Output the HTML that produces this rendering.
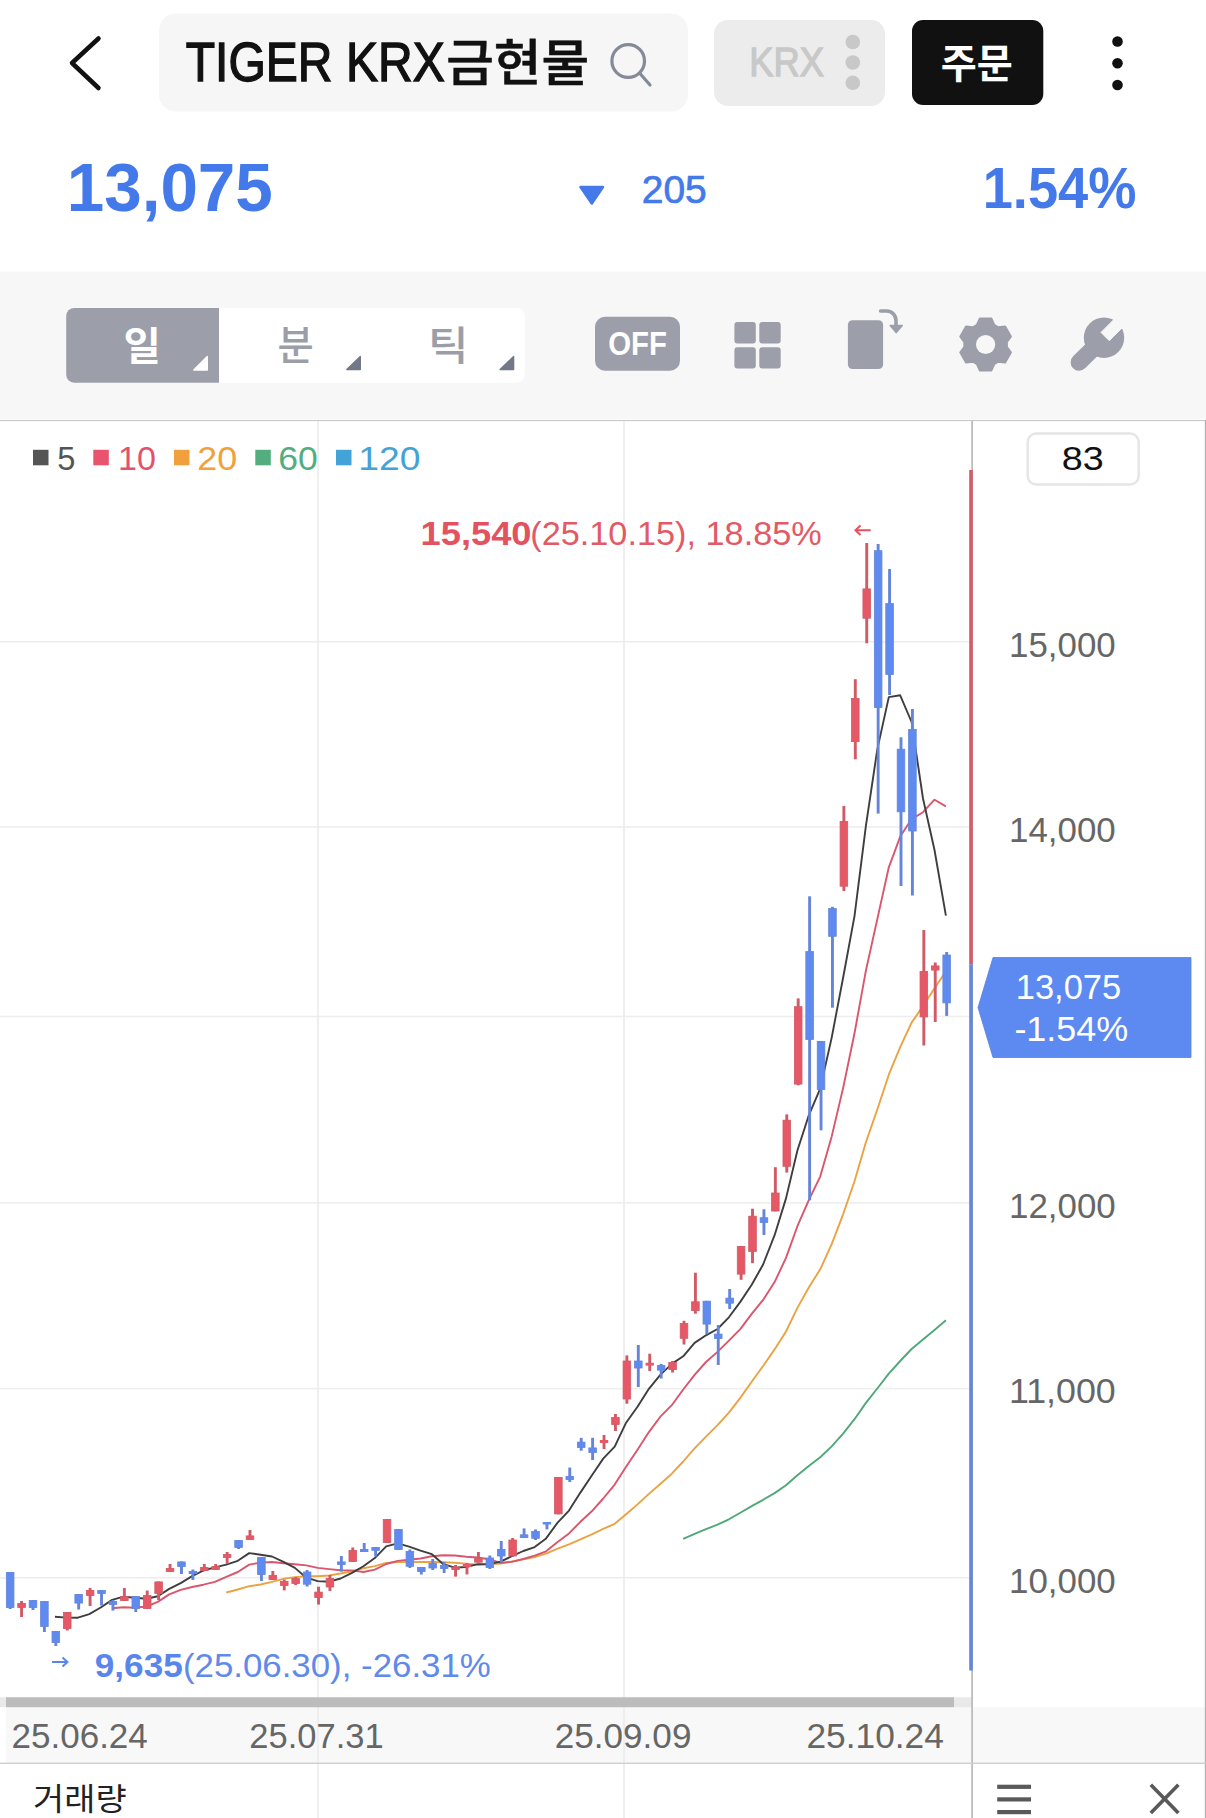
<!DOCTYPE html>
<html lang="ko"><head><meta charset="utf-8"><title>TIGER KRX금현물</title>
<style>
html,body{margin:0;padding:0;background:#fff;}
body{width:1206px;height:1818px;position:relative;overflow:hidden;font-family:"Liberation Sans","Noto Sans CJK KR",sans-serif;}
svg{position:absolute;left:0;top:0;display:block;}
svg text{font-family:"Liberation Sans","Noto Sans CJK KR",sans-serif;white-space:pre;}
</style></head><body>
<svg width="1206" height="1818" viewBox="0 0 1206 1818">
<g id="header">
<rect x="159" y="13.5" width="529" height="98" rx="17" fill="#f6f6f6"/>
<text transform="translate(185.70,80.90) scale(0.8729,1)" font-size="55.07" fill="#111" stroke="#111" stroke-width="1.4">TIGER KRX</text>
<text transform="translate(446.17,80.81) scale(1.0251,1)" font-size="50.55" font-weight="500" font-family="Liberation Sans, Noto Sans CJK KR, sans-serif" fill="#111" stroke="#111" stroke-width="0.6">금현물</text>
<polyline points="98.5,38.5 72,63 98.5,88" fill="none" stroke="#111" stroke-width="4.5" stroke-linecap="round" stroke-linejoin="round"/>
<circle cx="628.2" cy="61" r="16.3" fill="none" stroke="#858a98" stroke-width="3.2"/>
<line x1="640" y1="73.5" x2="650" y2="85" stroke="#858a98" stroke-width="3.2" stroke-linecap="round"/>
<rect x="714" y="20" width="171" height="86" rx="14" fill="#ececec"/>
<text transform="translate(749.29,76.30) scale(0.8836,1)" font-size="41.16" fill="#c8c8c8" stroke="#c8c8c8" stroke-width="1.3">KRX</text>
<circle cx="852.8" cy="42" r="7.3" fill="#c8c8c8"/><circle cx="852.8" cy="62.5" r="7.3" fill="#c8c8c8"/><circle cx="852.8" cy="82.8" r="7.3" fill="#c8c8c8"/>
<rect x="912" y="20" width="131.3" height="85" rx="11" fill="#111"/>
<text transform="translate(940.83,77.98) scale(0.9732,1)" font-size="40.22" font-weight="700" font-family="Liberation Sans, Noto Sans CJK KR, sans-serif" fill="#fff">주문</text>
<circle cx="1117.5" cy="41.5" r="5.3" fill="#111"/><circle cx="1117.5" cy="63.3" r="5.3" fill="#111"/><circle cx="1117.5" cy="85" r="5.3" fill="#111"/>
<text transform="translate(66.72,210.90) scale(0.9726,1)" font-size="69.29" font-weight="700" fill="#4479ea">13,075</text>
<polygon points="580.5,187 603,187 591.8,203.5" fill="#4479ea" stroke="#4479ea" stroke-width="2.5" stroke-linejoin="round"/>
<text transform="translate(641.75,202.70) scale(1.0107,1)" font-size="38.57" fill="#4479ea" stroke="#4479ea" stroke-width="0.7">205</text>
<text transform="translate(982.68,208.30) scale(0.9466,1)" font-size="57.27" font-weight="700" fill="#4479ea">1.54%</text>
</g>
<g id="toolbar">
<rect x="0" y="271.6" width="1206" height="147.2" fill="#f7f7f7"/>
<rect x="0" y="419.9" width="1206" height="1.2" fill="#c9c9c9"/>
<rect x="66.2" y="308" width="458.5" height="74.7" rx="8" fill="#fff"/>
<path d="M219 308 H74.2 a8 8 0 0 0 -8 8 V374.7 a8 8 0 0 0 8 8 H219 Z" fill="#9c9ea9"/>
<text transform="translate(123.46,359.88) scale(1.0415,1)" font-size="39.02" font-weight="700" font-family="Liberation Sans, Noto Sans CJK KR, sans-serif" fill="#fff">일</text>
<text transform="translate(277.53,359.90) scale(0.9495,1)" font-size="41.49" font-weight="500" font-family="Liberation Sans, Noto Sans CJK KR, sans-serif" fill="#9b9ea9">분</text>
<text transform="translate(428.11,360.41) scale(1.1059,1)" font-size="39.89" font-weight="500" font-family="Liberation Sans, Noto Sans CJK KR, sans-serif" fill="#9b9ea9">틱</text>
<polygon points="207.3,356.5 207.3,370 193.8,370" fill="#fff" stroke="#fff" stroke-width="1.4" stroke-linejoin="round"/>
<polygon points="360.3,356.5 360.3,369.5 346.8,369.5" fill="#737888" stroke="#737888" stroke-width="1.4" stroke-linejoin="round"/>
<polygon points="513.6,356.5 513.6,369.5 500.1,369.5" fill="#737888" stroke="#737888" stroke-width="1.4" stroke-linejoin="round"/>
<rect x="595" y="316.8" width="85" height="54" rx="10" fill="#9c9ea9"/>
<text transform="translate(608.22,354.70) scale(0.9027,1)" font-size="32.57" font-weight="700" fill="#fff">OFF</text>
<g fill="#9c9ea9"><rect x="734.4" y="322" width="21.4" height="21.4" rx="3"/><rect x="734.4" y="347.2" width="21.4" height="21.4" rx="3"/><rect x="759.3" y="322" width="21.4" height="21.4" rx="3"/><rect x="759.3" y="347.2" width="21.4" height="21.4" rx="3"/><rect x="847.9" y="320.2" width="35.2" height="48.8" rx="4.6"/></g>
<path d="M880.6 311 H886.5 A9.5 9.5 0 0 1 896 320.5 V326" fill="none" stroke="#9c9ea9" stroke-width="3.6" stroke-linecap="round"/>
<polygon points="890.2,325.6 902.2,325.6 896.2,332.6" fill="#9c9ea9" stroke="#9c9ea9" stroke-width="1.6" stroke-linejoin="round"/>
<path d="M994.1 325.1 L991.3 318.8 L979.9 318.8 L977.1 325.1 L973.0 327.5 L966.2 326.7 L960.5 336.6 L964.5 342.1 L964.5 346.9 L960.5 352.4 L966.2 362.3 L973.0 361.5 L977.1 363.9 L979.9 370.2 L991.3 370.2 L994.1 363.9 L998.2 361.5 L1005.0 362.3 L1010.7 352.4 L1006.7 346.9 L1006.7 342.1 L1010.7 336.6 L1005.0 326.7 L998.2 327.5 Z" fill="#9c9ea9" stroke="#9c9ea9" stroke-width="2.4" stroke-linejoin="round"/>
<circle cx="985.6" cy="344.5" r="9.6" fill="#f7f7f7"/>
<g id="wrench"><line x1="1079.1" y1="362.2" x2="1104.0" y2="337.7" stroke="#9c9ea9" stroke-width="17" stroke-linecap="round"/><circle cx="1104.0" cy="337.7" r="20.2" fill="#9c9ea9"/><polygon points="1101.0,332.4 1109.3,340.7 1126.5,323.5 1118.2,315.2" fill="#f7f7f7" stroke="#f7f7f7" stroke-width="1" stroke-linejoin="round"/></g>
</g>
<g id="chart">
<rect x="6" y="1707" width="1200" height="56" fill="#f8f8f8"/>
<rect x="0" y="641.0" width="969" height="1.6" fill="#eeeeee"/>
<rect x="0" y="826.2" width="969" height="1.6" fill="#eeeeee"/>
<rect x="0" y="1015.7" width="969" height="1.6" fill="#eeeeee"/>
<rect x="0" y="1202.1" width="969" height="1.6" fill="#eeeeee"/>
<rect x="0" y="1387.8" width="969" height="1.6" fill="#eeeeee"/>
<rect x="0" y="1577.0" width="969" height="1.6" fill="#eeeeee"/>
<rect x="317.2" y="421" width="1.6" height="1397" fill="#ececec"/>
<rect x="623.2" y="421" width="1.6" height="1397" fill="#ececec"/>
<rect x="0" y="1697.3" width="972" height="9.9" fill="#e9e9e9"/>
<rect x="6" y="1697.3" width="948" height="9.9" fill="#bcbcbc"/>
<rect x="971.3" y="421" width="1.6" height="1397" fill="#b5b5b5"/>
<rect x="1204.8" y="420" width="1.2" height="1398" fill="#b2b2b2"/>
<rect x="0" y="1762.6" width="1206" height="1.4" fill="#cfcfcf"/>
<polyline points="683.2,1538.9 694.6,1533.8 706.0,1529.2 717.5,1524.7 728.9,1519.3 740.3,1512.7 751.7,1506.1 763.1,1499.8 774.6,1493.1 786.0,1485.2 797.4,1475.3 808.8,1466.0 820.2,1457.3 831.7,1446.4 843.1,1433.7 854.5,1419.2 865.9,1402.9 877.3,1388.5 888.8,1373.6 900.2,1361.0 911.6,1349.0 923.0,1339.4 934.5,1329.9 945.9,1320.3" fill="none" stroke="#4fa878" stroke-width="1.9" stroke-linejoin="round"/>
<polyline points="226.3,1592.5 237.8,1589.5 249.2,1586.2 260.6,1584.5 272.0,1581.9 283.5,1578.8 294.9,1577.1 306.3,1576.2 317.7,1576.3 329.1,1575.5 340.6,1573.5 352.0,1571.2 363.4,1568.3 374.8,1566.1 386.2,1563.0 397.7,1562.1 409.1,1562.1 420.5,1562.0 431.9,1562.0 443.3,1562.2 454.8,1562.8 466.2,1563.6 477.6,1564.7 489.0,1564.4 500.5,1563.5 511.9,1561.4 523.3,1559.4 534.7,1557.1 546.1,1553.7 557.6,1548.7 569.0,1544.4 580.4,1539.3 591.8,1534.4 603.2,1528.8 614.7,1523.8 626.1,1514.3 637.5,1504.4 648.9,1493.9 660.3,1484.0 671.8,1473.7 683.2,1461.5 694.6,1448.3 706.0,1436.7 717.5,1425.2 728.9,1412.6 740.3,1397.9 751.7,1381.8 763.1,1366.0 774.6,1349.4 786.0,1331.5 797.4,1307.9 808.8,1287.5 820.2,1269.3 831.7,1244.2 843.1,1214.3 854.5,1181.2 865.9,1142.2 877.3,1109.5 888.8,1074.7 900.2,1047.2 911.6,1022.6 923.0,1006.1 934.5,988.2 945.9,971.4" fill="none" stroke="#eaa343" stroke-width="1.9" stroke-linejoin="round"/>
<polyline points="112.1,1608.3 123.6,1607.2 135.0,1607.8 146.4,1606.5 157.8,1601.9 169.2,1594.4 180.7,1589.9 192.1,1587.0 203.5,1584.7 214.9,1581.8 226.3,1576.8 237.8,1572.0 249.2,1564.6 260.6,1562.6 272.0,1562.0 283.5,1563.2 294.9,1564.3 306.3,1565.4 317.7,1567.9 329.1,1569.1 340.6,1570.2 352.0,1570.4 363.4,1572.0 374.8,1569.6 386.2,1564.0 397.7,1560.9 409.1,1559.8 420.5,1558.5 431.9,1556.2 443.3,1555.3 454.8,1555.5 466.2,1556.8 477.6,1557.5 489.0,1559.2 500.5,1562.9 511.9,1561.9 523.3,1559.0 534.7,1555.7 546.1,1551.3 557.6,1542.1 569.0,1533.4 580.4,1521.8 591.8,1511.3 603.2,1498.5 614.7,1484.6 626.1,1466.7 637.5,1449.7 648.9,1432.1 660.3,1416.7 671.8,1405.2 683.2,1389.5 694.6,1374.9 706.0,1362.0 717.5,1351.9 728.9,1340.6 740.3,1329.1 751.7,1313.9 763.1,1299.9 774.6,1282.1 786.0,1257.9 797.4,1226.2 808.8,1200.1 820.2,1176.6 831.7,1136.4 843.1,1088.1 854.5,1033.3 865.9,970.6 877.3,919.1 888.8,867.3 900.2,836.6 911.6,819.1 923.0,812.2 934.5,799.7 945.9,806.4" fill="none" stroke="#d9566c" stroke-width="1.9" stroke-linejoin="round"/>
<polyline points="55.0,1616.8 66.5,1617.6 77.9,1617.7 89.3,1614.1 100.7,1607.5 112.1,1599.9 123.6,1596.7 135.0,1597.8 146.4,1598.8 157.8,1596.3 169.2,1588.9 180.7,1583.1 192.1,1576.1 203.5,1570.5 214.9,1567.4 226.3,1564.6 237.8,1560.8 249.2,1553.1 260.6,1554.7 272.0,1556.5 283.5,1561.9 294.9,1567.9 306.3,1577.7 317.7,1581.1 329.1,1581.7 340.6,1578.5 352.0,1572.9 363.4,1566.3 374.8,1558.1 386.2,1546.3 397.7,1543.3 409.1,1546.7 420.5,1550.7 431.9,1554.2 443.3,1564.2 454.8,1567.6 466.2,1567.0 477.6,1564.2 489.0,1564.1 500.5,1561.6 511.9,1556.2 523.3,1551.0 534.7,1547.1 546.1,1538.4 557.6,1522.6 569.0,1510.6 580.4,1492.6 591.8,1475.5 603.2,1458.6 614.7,1446.6 626.1,1422.7 637.5,1406.8 648.9,1388.8 660.3,1374.9 671.8,1363.9 683.2,1356.3 694.6,1342.9 706.0,1335.3 717.5,1329.0 728.9,1317.3 740.3,1301.9 751.7,1284.8 763.1,1264.5 774.6,1235.2 786.0,1198.4 797.4,1150.5 808.8,1115.3 820.2,1088.7 831.7,1037.6 843.1,977.8 854.5,916.1 865.9,825.8 877.3,749.4 888.8,697.1 900.2,695.3 911.6,722.0 923.0,798.5 934.5,850.0 945.9,915.7" fill="none" stroke="#3e3e3e" stroke-width="1.9" stroke-linejoin="round"/>
<rect x="8.70" y="1572.0" width="2.9" height="37.0" fill="#6485da"/><rect x="6.35" y="1572.4" width="7.6" height="35.2" fill="#5f8bf0" stroke="#6485da" stroke-width="0.8"/>
<rect x="20.12" y="1601.0" width="2.9" height="16.0" fill="#d05a66"/><rect x="17.77" y="1603.4" width="7.6" height="4.2" fill="#e65866" stroke="#d05a66" stroke-width="0.8"/>
<rect x="31.54" y="1600.0" width="2.9" height="10.0" fill="#6485da"/><rect x="29.19" y="1600.4" width="7.6" height="7.2" fill="#5f8bf0" stroke="#6485da" stroke-width="0.8"/>
<rect x="42.96" y="1601.0" width="2.9" height="31.0" fill="#6485da"/><rect x="40.61" y="1601.4" width="7.6" height="25.2" fill="#5f8bf0" stroke="#6485da" stroke-width="0.8"/>
<rect x="54.38" y="1631.0" width="2.9" height="15.0" fill="#6485da"/><rect x="52.03" y="1631.4" width="7.6" height="11.2" fill="#5f8bf0" stroke="#6485da" stroke-width="0.8"/>
<rect x="65.80" y="1612.0" width="2.9" height="18.5" fill="#d05a66"/><rect x="63.45" y="1612.4" width="7.6" height="16.2" fill="#e65866" stroke="#d05a66" stroke-width="0.8"/>
<rect x="77.23" y="1594.0" width="2.9" height="15.5" fill="#6485da"/><rect x="74.88" y="1594.4" width="7.6" height="8.7" fill="#5f8bf0" stroke="#6485da" stroke-width="0.8"/>
<rect x="88.65" y="1588.0" width="2.9" height="18.0" fill="#d05a66"/><rect x="86.30" y="1590.4" width="7.6" height="5.2" fill="#e65866" stroke="#d05a66" stroke-width="0.8"/>
<rect x="100.07" y="1590.0" width="2.9" height="15.6" fill="#6485da"/><rect x="97.72" y="1590.4" width="7.6" height="3.2" fill="#5f8bf0" stroke="#6485da" stroke-width="0.8"/>
<rect x="111.49" y="1600.0" width="2.9" height="10.6" fill="#6485da"/><rect x="109.14" y="1601.4" width="7.6" height="3.2" fill="#5f8bf0" stroke="#6485da" stroke-width="0.8"/>
<rect x="122.91" y="1588.0" width="2.9" height="13.0" fill="#d05a66"/><rect x="120.56" y="1596.4" width="7.6" height="4.2" fill="#e65866" stroke="#d05a66" stroke-width="0.8"/>
<rect x="134.33" y="1596.0" width="2.9" height="16.0" fill="#6485da"/><rect x="131.98" y="1596.4" width="7.6" height="12.2" fill="#5f8bf0" stroke="#6485da" stroke-width="0.8"/>
<rect x="145.75" y="1590.5" width="2.9" height="18.5" fill="#d05a66"/><rect x="143.40" y="1595.4" width="7.6" height="13.2" fill="#e65866" stroke="#d05a66" stroke-width="0.8"/>
<rect x="157.17" y="1581.5" width="2.9" height="18.5" fill="#d05a66"/><rect x="154.82" y="1581.9" width="7.6" height="11.7" fill="#e65866" stroke="#d05a66" stroke-width="0.8"/>
<rect x="168.59" y="1564.0" width="2.9" height="8.0" fill="#d05a66"/><rect x="166.24" y="1568.4" width="7.6" height="3.2" fill="#e65866" stroke="#d05a66" stroke-width="0.8"/>
<rect x="180.02" y="1561.5" width="2.9" height="12.5" fill="#6485da"/><rect x="177.67" y="1561.9" width="7.6" height="4.7" fill="#5f8bf0" stroke="#6485da" stroke-width="0.8"/>
<rect x="191.44" y="1569.5" width="2.9" height="10.5" fill="#6485da"/><rect x="188.69" y="1571.0" width="8.4" height="3.0" fill="#5f8bf0"/>
<rect x="202.86" y="1564.0" width="2.9" height="7.0" fill="#d05a66"/><rect x="200.51" y="1567.4" width="7.6" height="3.2" fill="#e65866" stroke="#d05a66" stroke-width="0.8"/>
<rect x="214.28" y="1564.0" width="2.9" height="6.0" fill="#d05a66"/><rect x="211.93" y="1566.4" width="7.6" height="3.2" fill="#e65866" stroke="#d05a66" stroke-width="0.8"/>
<rect x="225.70" y="1552.0" width="2.9" height="12.0" fill="#d05a66"/><rect x="223.35" y="1554.4" width="7.6" height="3.2" fill="#e65866" stroke="#d05a66" stroke-width="0.8"/>
<rect x="237.12" y="1540.0" width="2.9" height="9.0" fill="#6485da"/><rect x="234.77" y="1540.4" width="7.6" height="7.2" fill="#5f8bf0" stroke="#6485da" stroke-width="0.8"/>
<rect x="248.54" y="1530.0" width="2.9" height="10.0" fill="#d05a66"/><rect x="246.19" y="1535.9" width="7.6" height="3.7" fill="#e65866" stroke="#d05a66" stroke-width="0.8"/>
<rect x="259.96" y="1557.0" width="2.9" height="24.0" fill="#6485da"/><rect x="257.61" y="1557.4" width="7.6" height="17.2" fill="#5f8bf0" stroke="#6485da" stroke-width="0.8"/>
<rect x="271.38" y="1571.0" width="2.9" height="9.0" fill="#d05a66"/><rect x="269.03" y="1575.4" width="7.6" height="4.2" fill="#e65866" stroke="#d05a66" stroke-width="0.8"/>
<rect x="282.80" y="1579.6" width="2.9" height="10.8" fill="#d05a66"/><rect x="280.45" y="1581.4" width="7.6" height="4.2" fill="#e65866" stroke="#d05a66" stroke-width="0.8"/>
<rect x="294.22" y="1577.0" width="2.9" height="8.0" fill="#d05a66"/><rect x="291.87" y="1578.4" width="7.6" height="5.2" fill="#e65866" stroke="#d05a66" stroke-width="0.8"/>
<rect x="305.65" y="1570.0" width="2.9" height="16.5" fill="#6485da"/><rect x="303.30" y="1572.0" width="7.6" height="12.2" fill="#5f8bf0" stroke="#6485da" stroke-width="0.8"/>
<rect x="317.07" y="1586.7" width="2.9" height="17.9" fill="#d05a66"/><rect x="314.72" y="1592.1" width="7.6" height="5.5" fill="#e65866" stroke="#d05a66" stroke-width="0.8"/>
<rect x="328.49" y="1575.0" width="2.9" height="16.0" fill="#d05a66"/><rect x="326.14" y="1578.4" width="7.6" height="8.6" fill="#e65866" stroke="#d05a66" stroke-width="0.8"/>
<rect x="339.91" y="1556.0" width="2.9" height="15.6" fill="#6485da"/><rect x="337.56" y="1561.9" width="7.6" height="2.7" fill="#5f8bf0" stroke="#6485da" stroke-width="0.8"/>
<rect x="351.33" y="1547.5" width="2.9" height="14.5" fill="#d05a66"/><rect x="348.98" y="1550.4" width="7.6" height="11.2" fill="#e65866" stroke="#d05a66" stroke-width="0.8"/>
<rect x="362.75" y="1543.0" width="2.9" height="9.0" fill="#6485da"/><rect x="360.00" y="1549.0" width="8.4" height="3.0" fill="#5f8bf0"/>
<rect x="374.17" y="1547.0" width="2.9" height="9.5" fill="#6485da"/><rect x="371.82" y="1547.4" width="7.6" height="2.9" fill="#5f8bf0" stroke="#6485da" stroke-width="0.8"/>
<rect x="385.59" y="1519.0" width="2.9" height="24.0" fill="#d05a66"/><rect x="383.24" y="1519.4" width="7.6" height="23.2" fill="#e65866" stroke="#d05a66" stroke-width="0.8"/>
<rect x="397.01" y="1529.0" width="2.9" height="21.0" fill="#6485da"/><rect x="394.66" y="1529.4" width="7.6" height="20.2" fill="#5f8bf0" stroke="#6485da" stroke-width="0.8"/>
<rect x="408.43" y="1549.5" width="2.9" height="18.5" fill="#6485da"/><rect x="406.08" y="1551.4" width="7.6" height="14.9" fill="#5f8bf0" stroke="#6485da" stroke-width="0.8"/>
<rect x="419.86" y="1567.0" width="2.9" height="7.5" fill="#6485da"/><rect x="417.51" y="1567.4" width="7.6" height="4.2" fill="#5f8bf0" stroke="#6485da" stroke-width="0.8"/>
<rect x="431.28" y="1559.0" width="2.9" height="11.0" fill="#6485da"/><rect x="428.93" y="1563.4" width="7.6" height="4.6" fill="#5f8bf0" stroke="#6485da" stroke-width="0.8"/>
<rect x="442.70" y="1562.0" width="2.9" height="11.0" fill="#6485da"/><rect x="440.35" y="1565.4" width="7.6" height="3.2" fill="#5f8bf0" stroke="#6485da" stroke-width="0.8"/>
<rect x="454.12" y="1565.0" width="2.9" height="11.6" fill="#d05a66"/><rect x="451.77" y="1567.1" width="7.6" height="2.5" fill="#e65866" stroke="#d05a66" stroke-width="0.8"/>
<rect x="465.54" y="1563.0" width="2.9" height="11.4" fill="#d05a66"/><rect x="462.79" y="1564.0" width="8.4" height="3.0" fill="#e65866"/>
<rect x="476.96" y="1552.0" width="2.9" height="10.6" fill="#d05a66"/><rect x="474.61" y="1558.4" width="7.6" height="3.8" fill="#e65866" stroke="#d05a66" stroke-width="0.8"/>
<rect x="488.38" y="1555.5" width="2.9" height="13.5" fill="#6485da"/><rect x="486.03" y="1558.0" width="7.6" height="9.6" fill="#5f8bf0" stroke="#6485da" stroke-width="0.8"/>
<rect x="499.80" y="1541.0" width="2.9" height="21.4" fill="#6485da"/><rect x="497.45" y="1549.4" width="7.6" height="6.6" fill="#5f8bf0" stroke="#6485da" stroke-width="0.8"/>
<rect x="511.22" y="1538.0" width="2.9" height="18.4" fill="#d05a66"/><rect x="508.87" y="1540.0" width="7.6" height="16.0" fill="#e65866" stroke="#d05a66" stroke-width="0.8"/>
<rect x="522.64" y="1528.4" width="2.9" height="9.6" fill="#6485da"/><rect x="520.29" y="1534.8" width="7.6" height="2.8" fill="#5f8bf0" stroke="#6485da" stroke-width="0.8"/>
<rect x="534.07" y="1529.4" width="2.9" height="10.6" fill="#6485da"/><rect x="531.72" y="1531.4" width="7.6" height="6.9" fill="#5f8bf0" stroke="#6485da" stroke-width="0.8"/>
<rect x="545.49" y="1522.0" width="2.9" height="7.4" fill="#6485da"/><rect x="542.74" y="1522.0" width="8.4" height="2.5" fill="#5f8bf0"/>
<rect x="556.91" y="1477.0" width="2.9" height="37.3" fill="#d05a66"/><rect x="554.56" y="1477.4" width="7.6" height="36.5" fill="#e65866" stroke="#d05a66" stroke-width="0.8"/>
<rect x="568.33" y="1467.6" width="2.9" height="14.4" fill="#6485da"/><rect x="565.98" y="1476.4" width="7.6" height="3.2" fill="#5f8bf0" stroke="#6485da" stroke-width="0.8"/>
<rect x="579.75" y="1437.8" width="2.9" height="12.9" fill="#6485da"/><rect x="577.40" y="1442.1" width="7.6" height="5.5" fill="#5f8bf0" stroke="#6485da" stroke-width="0.8"/>
<rect x="591.17" y="1437.8" width="2.9" height="22.2" fill="#6485da"/><rect x="588.82" y="1447.9" width="7.6" height="4.7" fill="#5f8bf0" stroke="#6485da" stroke-width="0.8"/>
<rect x="602.59" y="1435.0" width="2.9" height="14.0" fill="#d05a66"/><rect x="599.84" y="1440.0" width="8.4" height="3.0" fill="#e65866"/>
<rect x="614.01" y="1414.0" width="2.9" height="17.0" fill="#d05a66"/><rect x="611.66" y="1417.4" width="7.6" height="7.2" fill="#e65866" stroke="#d05a66" stroke-width="0.8"/>
<rect x="625.43" y="1355.4" width="2.9" height="48.3" fill="#d05a66"/><rect x="623.08" y="1361.0" width="7.6" height="38.0" fill="#e65866" stroke="#d05a66" stroke-width="0.8"/>
<rect x="636.85" y="1345.0" width="2.9" height="42.0" fill="#6485da"/><rect x="634.50" y="1361.0" width="7.6" height="7.0" fill="#5f8bf0" stroke="#6485da" stroke-width="0.8"/>
<rect x="648.28" y="1353.7" width="2.9" height="17.3" fill="#d05a66"/><rect x="645.53" y="1362.8" width="8.4" height="2.8" fill="#e65866"/>
<rect x="659.70" y="1364.0" width="2.9" height="14.5" fill="#6485da"/><rect x="657.35" y="1365.4" width="7.6" height="4.7" fill="#5f8bf0" stroke="#6485da" stroke-width="0.8"/>
<rect x="671.12" y="1361.0" width="2.9" height="11.5" fill="#d05a66"/><rect x="668.77" y="1362.4" width="7.6" height="7.2" fill="#e65866" stroke="#d05a66" stroke-width="0.8"/>
<rect x="682.54" y="1320.8" width="2.9" height="23.7" fill="#d05a66"/><rect x="680.19" y="1323.4" width="7.6" height="14.9" fill="#e65866" stroke="#d05a66" stroke-width="0.8"/>
<rect x="693.96" y="1272.7" width="2.9" height="41.0" fill="#d05a66"/><rect x="691.61" y="1301.8" width="7.6" height="8.8" fill="#e65866" stroke="#d05a66" stroke-width="0.8"/>
<rect x="705.38" y="1300.8" width="2.9" height="33.6" fill="#6485da"/><rect x="703.03" y="1301.2" width="7.6" height="22.9" fill="#5f8bf0" stroke="#6485da" stroke-width="0.8"/>
<rect x="716.80" y="1325.0" width="2.9" height="40.0" fill="#6485da"/><rect x="714.45" y="1334.1" width="7.6" height="4.5" fill="#5f8bf0" stroke="#6485da" stroke-width="0.8"/>
<rect x="728.22" y="1289.0" width="2.9" height="20.0" fill="#6485da"/><rect x="725.87" y="1298.1" width="7.6" height="5.1" fill="#5f8bf0" stroke="#6485da" stroke-width="0.8"/>
<rect x="739.64" y="1246.0" width="2.9" height="33.8" fill="#d05a66"/><rect x="737.29" y="1246.4" width="7.6" height="27.7" fill="#e65866" stroke="#d05a66" stroke-width="0.8"/>
<rect x="751.06" y="1208.7" width="2.9" height="54.5" fill="#d05a66"/><rect x="748.71" y="1216.2" width="7.6" height="35.2" fill="#e65866" stroke="#d05a66" stroke-width="0.8"/>
<rect x="762.49" y="1209.3" width="2.9" height="25.7" fill="#6485da"/><rect x="760.14" y="1217.7" width="7.6" height="4.9" fill="#5f8bf0" stroke="#6485da" stroke-width="0.8"/>
<rect x="773.91" y="1167.2" width="2.9" height="44.2" fill="#d05a66"/><rect x="771.56" y="1193.0" width="7.6" height="18.0" fill="#e65866" stroke="#d05a66" stroke-width="0.8"/>
<rect x="785.33" y="1114.4" width="2.9" height="58.2" fill="#d05a66"/><rect x="782.98" y="1120.2" width="7.6" height="46.1" fill="#e65866" stroke="#d05a66" stroke-width="0.8"/>
<rect x="796.75" y="998.4" width="2.9" height="86.9" fill="#d05a66"/><rect x="794.40" y="1006.7" width="7.6" height="77.4" fill="#e65866" stroke="#d05a66" stroke-width="0.8"/>
<rect x="808.17" y="896.3" width="2.9" height="304.0" fill="#6485da"/><rect x="805.82" y="951.6" width="7.6" height="88.0" fill="#5f8bf0" stroke="#6485da" stroke-width="0.8"/>
<rect x="819.59" y="1041.0" width="2.9" height="89.3" fill="#6485da"/><rect x="817.24" y="1041.4" width="7.6" height="48.2" fill="#5f8bf0" stroke="#6485da" stroke-width="0.8"/>
<rect x="831.01" y="906.8" width="2.9" height="100.9" fill="#6485da"/><rect x="828.66" y="908.6" width="7.6" height="27.7" fill="#5f8bf0" stroke="#6485da" stroke-width="0.8"/>
<rect x="842.43" y="806.0" width="2.9" height="85.0" fill="#d05a66"/><rect x="840.08" y="821.4" width="7.6" height="64.8" fill="#e65866" stroke="#d05a66" stroke-width="0.8"/>
<rect x="853.85" y="679.2" width="2.9" height="80.1" fill="#d05a66"/><rect x="851.50" y="698.4" width="7.6" height="43.2" fill="#e65866" stroke="#d05a66" stroke-width="0.8"/>
<rect x="865.27" y="543.0" width="2.9" height="100.3" fill="#d05a66"/><rect x="862.92" y="588.9" width="7.6" height="29.3" fill="#e65866" stroke="#d05a66" stroke-width="0.8"/>
<rect x="876.70" y="544.0" width="2.9" height="269.6" fill="#6485da"/><rect x="874.35" y="550.7" width="7.6" height="156.9" fill="#5f8bf0" stroke="#6485da" stroke-width="0.8"/>
<rect x="888.12" y="569.0" width="2.9" height="126.0" fill="#6485da"/><rect x="885.77" y="603.6" width="7.6" height="71.0" fill="#5f8bf0" stroke="#6485da" stroke-width="0.8"/>
<rect x="899.54" y="737.3" width="2.9" height="148.7" fill="#6485da"/><rect x="897.19" y="749.2" width="7.6" height="62.6" fill="#5f8bf0" stroke="#6485da" stroke-width="0.8"/>
<rect x="910.96" y="709.0" width="2.9" height="186.5" fill="#6485da"/><rect x="908.61" y="729.4" width="7.6" height="101.6" fill="#5f8bf0" stroke="#6485da" stroke-width="0.8"/>
<rect x="922.38" y="930.0" width="2.9" height="115.5" fill="#d05a66"/><rect x="920.03" y="971.4" width="7.6" height="45.5" fill="#e65866" stroke="#d05a66" stroke-width="0.8"/>
<rect x="933.80" y="962.5" width="2.9" height="59.5" fill="#d05a66"/><rect x="931.45" y="965.9" width="7.6" height="4.2" fill="#e65866" stroke="#d05a66" stroke-width="0.8"/>
<rect x="945.22" y="952.0" width="2.9" height="63.9" fill="#6485da"/><rect x="942.87" y="955.0" width="7.6" height="47.9" fill="#5f8bf0" stroke="#6485da" stroke-width="0.8"/>
<rect x="969.2" y="470" width="3.6" height="494.3" fill="#d25c68"/>
<rect x="969.2" y="964.3" width="3.6" height="706.2" fill="#6487d8"/>
<polygon points="978,1007.5 993,957.5 1191,957.5 1191,1057.5 993,1057.5" fill="#5d8af0" stroke="#5a80dc" stroke-width="0.8"/>
<text transform="translate(1015.71,998.80) scale(0.9774,1)" font-size="35.29" fill="#fff">13,075</text>
<text transform="translate(1014.38,1040.70) scale(1.0259,1)" font-size="35.07" fill="#fff">-1.54%</text>
<text transform="translate(1008.98,656.60) scale(0.9774,1)" font-size="35.71" fill="#666">15,000</text>
<text transform="translate(1008.98,841.80) scale(0.9774,1)" font-size="35.71" fill="#666">14,000</text>
<text transform="translate(1008.98,1217.70) scale(0.9774,1)" font-size="35.71" fill="#666">12,000</text>
<text transform="translate(1008.91,1403.40) scale(1.0029,1)" font-size="35.71" fill="#666">11,000</text>
<text transform="translate(1008.98,1592.60) scale(0.9774,1)" font-size="35.71" fill="#666">10,000</text>
<rect x="1027.7" y="433.5" width="111" height="51" rx="8.5" fill="#fff" stroke="#e5e5e5" stroke-width="2.4"/>
<text transform="translate(1061.80,469.50) scale(1.1491,1)" font-size="32.86" fill="#111">83</text>
<rect x="33" y="449.8" width="15.5" height="15.5" fill="#555555"/><text transform="translate(57.19,469.50) scale(0.9663,1)" font-size="33.77" fill="#555555">5</text>
<rect x="93.3" y="449.8" width="15.5" height="15.5" fill="#e9536c"/><text transform="translate(118.04,469.50) scale(1.0245,1)" font-size="33.29" fill="#e2536a">10</text>
<rect x="174" y="449.8" width="15.5" height="15.5" fill="#f0a13c"/><text transform="translate(197.20,469.50) scale(1.0786,1)" font-size="33.29" fill="#f0a13c">20</text>
<rect x="255.3" y="449.8" width="15.5" height="15.5" fill="#52ad7f"/><text transform="translate(278.22,469.50) scale(1.0698,1)" font-size="33.29" fill="#52ad7f">60</text>
<rect x="336" y="449.8" width="15.5" height="15.5" fill="#44a3d6"/><text transform="translate(358.20,469.50) scale(1.1206,1)" font-size="33.29" fill="#44a3d6">120</text>
<text transform="translate(420.54,544.80) scale(1.0956,1)" font-size="33.14" font-weight="700" fill="#e2535f">15,540</text>
<text transform="translate(530.24,544.80) scale(1.0347,1)" font-size="33.14" fill="#e15a66">(25.10.15), 18.85%</text>
<text transform="translate(94.77,1677.30) scale(1.0430,1)" font-size="33.71" font-weight="700" fill="#5886ec">9,635</text>
<text transform="translate(182.91,1677.30) scale(1.0338,1)" font-size="33.71" fill="#5f8aea">(25.06.30), -26.31%</text>
<path d="M870.7 530.2 H855.5 M860.5 525.4 L855.5 530.2 L860.5 535" fill="none" stroke="#e2535f" stroke-width="2"/>
<path d="M52 1662 H67.5 M62.5 1657.5 L67.5 1662 L62.5 1666.5" fill="none" stroke="#5886ec" stroke-width="2"/>
<text transform="translate(11.55,1748.40) scale(1.0130,1)" font-size="34.57" fill="#666">25.06.24</text>
<text transform="translate(249.37,1748.40) scale(0.9985,1)" font-size="34.57" fill="#666">25.07.31</text>
<text transform="translate(554.64,1748.40) scale(1.0168,1)" font-size="34.57" fill="#666">25.09.09</text>
<text transform="translate(806.43,1748.40) scale(1.0221,1)" font-size="34.57" fill="#666">25.10.24</text>
<text transform="translate(33.11,1810.32) scale(1.0929,1)" font-size="30.99" font-family="Liberation Sans, Noto Sans CJK KR, sans-serif" fill="#222">거래량</text>
<g fill="#595959"><rect x="997.2" y="1784.7" width="33.8" height="4.2"/><rect x="997.2" y="1797.3" width="33.8" height="4.2"/><rect x="997.2" y="1810" width="33.8" height="4.2"/></g>
<path d="M1150.8 1784.8 L1178.4 1813 M1178.4 1784.8 L1150.8 1813" stroke="#595959" stroke-width="3.6" fill="none"/>
</g>
</svg>
</body></html>
